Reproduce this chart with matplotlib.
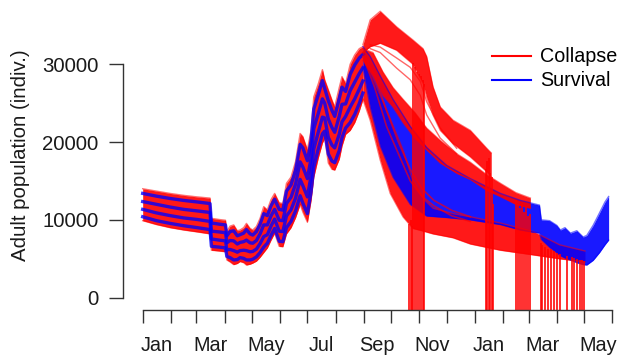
import matplotlib
matplotlib.use("Agg")
import matplotlib.pyplot as plt
from matplotlib.lines import Line2D

plt.rcParams["font.family"] = ["Liberation Sans", "DejaVu Sans"]

RED = "#ff0000"
BLUE = "#0000ff"
AXIS = "#333333"

# x is day number, 0 = 1 Jan of the first year, runs to end of May in year two
month_starts = [0, 31, 59, 90, 120, 151, 181, 212, 243, 273, 304, 334,
                365, 396, 424, 455, 485, 516]
label_days = [15.5, 74.5, 135.5, 196.5, 257.5, 318.5, 380.5, 439.5, 500.5]
label_names = ["Jan", "Mar", "May", "Jul", "Sep", "Nov", "Jan", "Mar", "May"]
y_ticks = [0, 10000, 20000, 30000]

# spread of all runs up to the late-summer peak (upper / lower edge)
early_days = [0, 15, 30, 45, 60, 74, 75.5, 84, 91, 92.5, 96, 100, 104, 107,
              111, 114, 118, 121, 125, 129, 133, 137, 141, 145, 150, 154, 158,
              163, 168, 173, 176, 181, 185, 188, 193, 197.5, 200, 204, 208,
              211, 216, 219, 223, 228, 233, 238, 242]
early_hi = [14000, 13700, 13400, 13150, 12950, 12800, 10200, 10050, 9950,
            8500, 9200, 9350, 8600, 8700, 9000, 9550, 8900, 8700, 9150, 10200,
            11700, 11300, 12600, 13400, 12200, 12100, 14700, 15500, 17500,
            21100, 20700, 19000, 21500, 25800, 27500, 29300, 28000, 26700,
            25400, 24500, 27000, 28400, 27500, 30000, 31200, 32000, 32250]
early_lo = [9900, 9400, 9000, 8700, 8450, 8200, 6100, 6000, 5900, 4850, 4600,
            4250, 4400, 4650, 4500, 4200, 4300, 4450, 4700, 5200, 5800, 6400,
            7400, 8300, 6600, 6550, 8200, 9000, 10300, 12000, 11000, 9700,
            12500, 15500, 18000, 19900, 20500, 17300, 16500, 16400, 17800,
            19500, 21000, 21500, 22500, 24000, 25500]

# survival runs visible inside the shared spread
early_blue_1 = [13400, 13050, 12750, 12500, 12300, 12100, 9600, 9450, 9350,
                7950, 8500, 8600, 7950, 8100, 8300, 8750, 8200, 8050, 8500,
                9450, 10800, 10550, 11800, 12650, 11350, 11250, 13700, 14500,
                16400, 19700, 19250, 17600, 20150, 24250, 26100, 27900, 26900,
                25300, 24050, 23300, 25600, 27050, 26500, 28700, 29900, 30800,
                31250]
early_blue_2 = [12350, 12000, 11650, 11350, 11150, 10950, 8550, 8450, 8350,
                7050, 7350, 7300, 6900, 7100, 7200, 7400, 7050, 7000, 7350,
                8200, 9350, 9350, 10500, 11350, 9950, 9900, 12100, 12900,
                14600, 17450, 16800, 15300, 17900, 21700, 23700, 25550, 25000,
                22950, 21850, 21250, 23300, 24850, 24900, 26600, 27700, 28800,
                29550]
early_blue_3 = [11350, 10900, 10550, 10250, 10050, 9800, 7550, 7400, 7300,
                6150, 6200, 6050, 5850, 6050, 6100, 6050, 5900, 5950, 6250,
                6950, 7850, 8100, 9200, 10100, 8550, 8500, 10500, 11300,
                12800, 15200, 14400, 12950, 15650, 19100, 21300, 23200, 23100,
                20600, 19600, 19250, 21000, 22600, 23300, 24500, 25550, 26800,
                27850]
early_blue_4 = [10400, 9900, 9550, 9250, 9000, 8750, 6600, 6500, 6400, 5300,
                5150, 4850, 4900, 5150, 5050, 4850, 4850, 4950, 5250, 5800,
                6500, 7000, 8000, 8900, 7250, 7200, 9000, 9800, 11150, 13100,
                12150, 10800, 13600, 16750, 19150, 21050, 21400, 18450, 17550,
                17350, 18900, 20550, 21800, 22500, 23550, 24950, 26300]

# survival runs after the peak
blue_days = [242, 250, 261, 275, 294, 312, 334, 360, 393, 415, 436, 438, 447,
             455, 459, 464, 470, 477, 484, 488, 495, 502, 508, 512]
blue_hi = [32250, 31000, 28500, 25500, 22000, 19300, 17000, 15300, 13400,
           12500, 11900, 10000, 9900, 9300, 8700, 9000, 8300, 8600, 7800,
           8000, 9300, 10900, 12300, 13000]
blue_lo = [29500, 24500, 19500, 15500, 12000, 10500, 10300, 10000, 9400, 8700,
           8300, 7500, 6500, 5800, 5400, 5100, 4850, 4500, 4250, 4200, 4800,
           5800, 6800, 7400]

# collapsing runs, high group (overshoot in Sep)
high_days = [242, 250, 261, 279, 297, 308, 312, 319, 327, 341, 360, 378, 383]
high_hi = [32500, 35700, 36800, 34800, 33100, 32000, 31000, 27100, 24500,
           22800, 21500, 19200, 18600]
high_lo = [31500, 32250, 32700, 31800, 30000, 27500, 25800, 23500, 21500,
           19800, 18100, 16200, 15500]

# collapsing runs just above the survival band
mid_days = [242, 253, 264, 275, 286, 299, 312, 327, 345, 360, 378, 393, 410,
            426]
mid_hi = [32000, 31500, 29000, 27000, 25500, 23800, 21800, 20200, 18500,
          17400, 15800, 14700, 13500, 12800]
mid_lo = [30500, 28500, 26000, 24500, 22500, 20500, 19000, 17300, 16000,
          15200, 13800, 13000, 12000, 11500]

# collapsing runs below the survival band
low_days = [242, 250, 261, 272, 286, 297, 310, 319, 341, 360, 393, 429, 458,
            486]
low_hi = [31000, 29000, 26000, 23000, 19000, 15000, 12500, 11500, 10800,
          10400, 9600, 8500, 6800, 6000]
low_lo = [25500, 22800, 17700, 13400, 10400, 8900, 8500, 8200, 7700, 6900,
          6100, 5500, 5000, 4600]

# collapsing runs that cut through the survival band in autumn
cross_days = [242, 255, 268, 281, 294, 307, 320, 340, 360]
cross_1 = [31000, 27000, 22000, 18500, 15000, 13000, 11800, 10500, 9800]
cross_2 = [31500, 28500, 24000, 20000, 16500, 14000, 12500, 11200, 10400]

# a few high runs that leave the group early
stray_days = [250, 261, 279, 294, 305, 312, 327, 345]
stray_1 = [32000, 31500, 29500, 28000, 26000, 23500, 20500, 18500]
stray_2 = [32500, 32200, 30800, 29600, 27800, 25200, 21800, 19200]

# day of collapse and the population just before it
collapse_days = [292.6, 294.3, 295.9, 297.3, 299.2, 301.4, 303.6, 305.8, 308,
                 309.6, 377.2, 378.9, 380.5, 382.1, 383.8, 384.9, 409.8, 412.4,
                 414.6, 416.8, 419, 421.2, 423.4, 425.6, 437.3, 438.7, 442.6,
                 445.3, 448.6, 452.5, 455.2, 458.5, 465.9, 471.7, 474.5, 476.9,
                 480.5, 482.7, 485.4]
collapse_level = [9500, 10000, 9200, 30100, 29600, 29000, 28800, 28500, 28000,
                  27500, 16500, 17500, 18000, 16000, 15500, 12000, 12500,
                  12000, 11500, 12200, 11000, 11800, 10500, 10800, 7000, 6800,
                  6500, 6300, 6200, 6000, 5800, 5600, 5400, 5200, 5100, 5000,
                  4900, 4800, 4700]

Y_MIN, Y_MAX = -1516, 38250
X_MIN, X_MAX = -21.3, 523.4

fig = plt.figure(figsize=(6.19, 3.57), dpi=100)
ax = fig.add_axes([123.3 / 619, 47.5 / 357, (619 - 123.3) / 619, 309.5 / 357])


def band(days, hi, lo, color, alpha=0.9):
    ax.fill_between(days, lo, hi, color=color, alpha=alpha, linewidth=0)
    ax.plot(days, hi, color=color, alpha=0.55, linewidth=1.0)
    ax.plot(days, lo, color=color, alpha=0.55, linewidth=1.0)


band(early_days, early_hi, early_lo, RED)
for vals in [early_blue_1, early_blue_2, early_blue_3, early_blue_4]:
    ax.plot(early_days, vals, color=BLUE, alpha=0.8, linewidth=2.4)

band(low_days, low_hi, low_lo, RED)
band(blue_days, blue_hi, blue_lo, BLUE)
for vals in [cross_1, cross_2]:
    ax.plot(cross_days, vals, color=RED, alpha=0.65, linewidth=1.2)
band(mid_days, mid_hi, mid_lo, RED)
band(high_days, high_hi, high_lo, RED)
for vals in [stray_1, stray_2]:
    ax.plot(stray_days, vals, color=RED, alpha=0.6, linewidth=1.0)

ax.vlines(collapse_days, Y_MIN, collapse_level, color=RED, alpha=0.85,
          linewidth=1.35)

ax.set_xlim(X_MIN, X_MAX)
ax.set_ylim(Y_MIN, Y_MAX)

for side in ["top", "right"]:
    ax.spines[side].set_visible(False)
ax.spines["left"].set_bounds(y_ticks[0], y_ticks[-1])
ax.spines["bottom"].set_bounds(month_starts[0], month_starts[-1])
for side in ["left", "bottom"]:
    ax.spines[side].set_color(AXIS)
    ax.spines[side].set_linewidth(1.0)

ax.set_yticks(y_ticks)
ax.set_yticklabels([str(v) for v in y_ticks])
ax.set_xticks(month_starts)
ax.set_xticklabels([])
ax.set_xticks(label_days, minor=True)
ax.set_xticklabels(label_names, minor=True)

ax.tick_params(axis="y", length=10.3, width=1.0, color=AXIS, pad=7.7,
               labelsize=14.7, labelcolor="#1a1a1a")
ax.tick_params(axis="x", which="major", length=9.4, width=1.0, color=AXIS)
ax.tick_params(axis="x", which="minor", length=0, pad=19,
               labelsize=14.3, labelcolor="#1a1a1a")

ax.set_ylabel("Adult population (indiv.)", fontsize=14.7, color="#1a1a1a")
ax.yaxis.set_label_coords(-0.188, 0.5)

handles = [Line2D([], [], color=RED, linewidth=1.5),
           Line2D([], [], color=BLUE, linewidth=1.5)]
ax.legend(handles, ["Collapse", "Survival"], loc="upper left",
          bbox_to_anchor=(491.7 / 619, 1 - 47.5 / 357),
          bbox_transform=fig.transFigure, frameon=False, fontsize=14.2,
          handlelength=2.0, handletextpad=0.45, labelspacing=0.25,
          borderpad=0, borderaxespad=0)

fig.savefig("out.png", dpi=100)
